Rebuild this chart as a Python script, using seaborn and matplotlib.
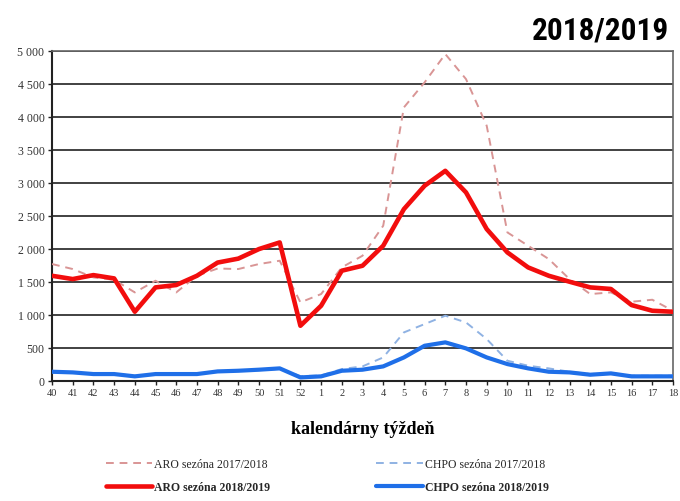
import matplotlib
matplotlib.use("Agg")
import matplotlib.pyplot as plt
import seaborn as sns
import pandas as pd
import numpy as np
from matplotlib.lines import Line2D

weeks = ["40", "41", "42", "43", "44", "45", "46", "47", "48", "49", "50", "51", "52",
         "1", "2", "3", "4", "5", "6", "7", "8", "9", "10", "11", "12", "13", "14", "15", "16", "17", "18"]

aro_1718 = [1768, 1692, 1565, 1530, 1338, 1515, 1338, 1590, 1700, 1692, 1768, 1818, 1187,
            1313, 1717, 1894, 2348, 4141, 4520, 4949, 4570, 3863, 2247, 2045, 1843, 1540, 1313, 1338, 1197, 1227, 1060]
aro_1819 = [1590, 1540, 1600, 1550, 1045, 1414, 1450, 1590, 1790, 1850, 1995, 2095, 833,
            1136, 1667, 1742, 2045, 2600, 2954, 3180, 2853, 2298, 1944, 1717, 1590, 1500, 1414, 1390, 1146, 1060, 1045]
chpo_1718 = [125, 120, 110, 105, 75, 100, 100, 105, 135, 145, 160, 180, 70,
             80, 177, 217, 353, 732, 858, 985, 883, 631, 303, 227, 187, 136, 101, 116, 76, 76, 76]
chpo_1819 = [136, 126, 101, 101, 66, 101, 101, 101, 141, 151, 167, 187, 50,
             66, 151, 167, 217, 353, 530, 581, 490, 353, 252, 187, 136, 126, 91, 111, 66, 66, 66]

label_aro_old = "ARO sezóna 2017/2018"
label_chpo_old = "CHPO sezóna 2017/2018"
label_aro = "ARO sezóna 2018/2019"
label_chpo = "CHPO sezóna 2018/2019"

sns.set_style("white")
plt.rcParams['font.family'] = ['Liberation Serif', 'DejaVu Serif']

fig = plt.figure(figsize=(6.8, 5.02), dpi=100)
ax = fig.add_axes([0.0765, 0.2396, 0.9132, 0.6574])

pos = np.arange(len(weeks))
df = pd.DataFrame({"pos": pos, "aro_1718": aro_1718, "aro_1819": aro_1819,
                   "chpo_1718": chpo_1718, "chpo_1819": chpo_1819})

c_aro_old = "#d99595"
c_chpo_old = "#8fb2e3"
c_aro = "#f20d0d"
c_chpo = "#1f6fe8"

sns.lineplot(data=df, x="pos", y="aro_1718", ax=ax, color=c_aro_old, lw=1.4,
             linestyle=(0, (4, 3)), zorder=4)
sns.lineplot(data=df, x="pos", y="chpo_1718", ax=ax, color=c_chpo_old, lw=1.4,
             linestyle=(0, (4, 3)), zorder=4)
sns.lineplot(data=df, x="pos", y="aro_1819", ax=ax, color=c_aro, lw=3.3, zorder=5)
sns.lineplot(data=df, x="pos", y="chpo_1819", ax=ax, color=c_chpo, lw=3.0, zorder=5)

ax.set_xlim(0, len(weeks) - 1)
ax.set_ylim(0, 5000)
ax.set_xticks(pos)
ax.set_xticklabels(weeks, fontsize=7.5, color="#333333")
yt = np.arange(0, 5001, 500)
ax.set_yticks(yt)
ax.set_yticklabels([f"{v:,}".replace(",", " ") for v in yt], fontsize=8.5, color="#333333")
ax.yaxis.grid(True, color="#333333", lw=1.3)
ax.xaxis.grid(False)
ax.set_axisbelow(True)
ax.tick_params(axis="both", which="both", direction="out", length=3, width=1,
               color="#222222", pad=2.5, bottom=True, left=True)
for s in ["left", "bottom"]:
    ax.spines[s].set_color("#222222")
    ax.spines[s].set_linewidth(1.5)
for s in ["top", "right"]:
    ax.spines[s].set_color("#666666")
    ax.spines[s].set_linewidth(1.2)

ax.set_xlabel("kalendárny týždeň", fontsize=13, fontweight="bold", labelpad=16,
              color="black")
ax.set_ylabel("")

handles = [
    Line2D([], [], color=c_aro_old, lw=1.4, linestyle=(0, (4, 3))),
    Line2D([], [], color=c_aro, lw=3.3),
    Line2D([], [], color=c_chpo_old, lw=1.4, linestyle=(0, (4, 3))),
    Line2D([], [], color=c_chpo, lw=3.0),
]
labels = [label_aro_old, label_aro, label_chpo_old, label_chpo]
leg = fig.legend(handles, labels, ncol=2, loc="lower left",
                 bbox_to_anchor=(0.14, -0.005), frameon=False, fontsize=8.5,
                 handlelength=3.9, columnspacing=9.0, handletextpad=0.2,
                 labelspacing=0.95)
for t in leg.get_texts():
    if "2018/2019" in t.get_text():
        t.set_fontweight("bold")

fig.text(0.984, 0.94, "2018/2019", ha="right", va="center", fontsize=22.5,
         fontweight="heavy", color="black",
         family=["Roboto Condensed", "Open Sans Condensed", "Liberation Sans Narrow",
                 "Roboto", "DejaVu Sans"])

fig.savefig("out.png", dpi=100)
